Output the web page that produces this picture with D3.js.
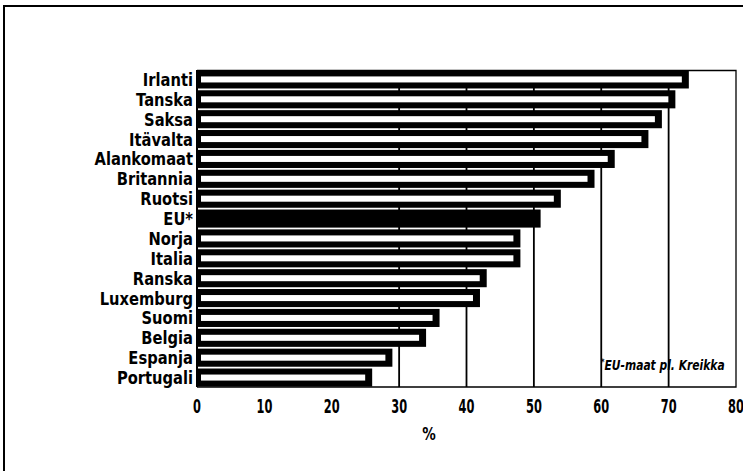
<!DOCTYPE html>
<html><head><meta charset="utf-8">
<script src="https://cdn.jsdelivr.net/npm/d3@7"></script>
<style>
html,body{margin:0;padding:0;background:#fff;}
svg{display:block;}
.lbl{font-family:"DejaVu Sans",sans-serif;font-weight:bold;fill:#000;}
</style></head><body>
<script>
const categories = ["Irlanti","Tanska","Saksa","Itävalta","Alankomaat","Britannia","Ruotsi","EU*","Norja","Italia","Ranska","Luxemburg","Suomi","Belgia","Espanja","Portugali"];
const values = [73,71,69,67,62,59,54,51,48,48,43,42,36,34,29,26];
const xTicks = [0,10,20,30,40,50,60,70,80];
const gridTicks = [30,40,50,60,70];
const highlighted = ["EU*"];
const axisTitle = "%";
const note = "EU-maat pl. Kreikka";

const W = 743, H = 471;
const svg = d3.select("body").append("svg").attr("width", W).attr("height", H);

// outer frame
svg.append("path").attr("d", `M4,${H} L4,6 L${W},6`).attr("fill","none").attr("stroke","#000").attr("stroke-width",2);

const x = d3.scaleLinear().domain([0,80]).range([197,736]);
const y = d3.scaleBand().domain(categories).range([70,387]).paddingInner(0.09).paddingOuter(0.02);

// plot frame (top, right, bottom)
svg.append("path").attr("d", `M${x(0)},70.5 L${x(80)},70.5 L${x(80)},387 L${x(0)},387`)
  .attr("fill","none").attr("stroke","#000").attr("stroke-width",1.3);

// gridlines
svg.append("g").selectAll("line").data(gridTicks).join("line")
  .attr("x1", d=>x(d)).attr("x2", d=>x(d)).attr("y1",70).attr("y2",387)
  .attr("stroke","#000").attr("stroke-width",1.8);

// bars
const bars = svg.append("g").selectAll("g").data(categories).join("g");
bars.append("rect")
  .attr("x", x(0)).attr("y", d=>y(d))
  .attr("width", (d,i)=>x(values[i])-x(0)).attr("height", y.bandwidth())
  .attr("fill","#000");
bars.filter(d=>!highlighted.includes(d)).append("rect")
  .attr("x", x(0)+4).attr("y", d=>y(d)+y.bandwidth()/3)
  .attr("width", d=>x(values[categories.indexOf(d)])-x(0)-11).attr("height", y.bandwidth()/3)
  .attr("fill","#fff");

// y axis line
svg.append("line").attr("x1",x(0)).attr("x2",x(0)).attr("y1",70).attr("y2",387).attr("stroke","#000").attr("stroke-width",2);

// condensed text helper
function ctext(g, px, py, sx, size) {
  return g.append("text").attr("class","lbl")
    .attr("transform", `translate(${px},${py}) scale(${sx},1)`)
    .attr("font-size", size);
}

// category labels
const lg = svg.append("g");
categories.forEach(c => {
  ctext(lg, 193, y(c)+y.bandwidth()/2+6.5, 0.84, 17.5).attr("text-anchor","end").text(c);
});

// x tick labels
const tg = svg.append("g");
xTicks.forEach(t => {
  ctext(tg, x(t), 412.5, 0.6, 19).attr("text-anchor","middle").text(t);
});

ctext(svg, 429, 440, 0.75, 18).attr("text-anchor","middle").text(axisTitle);

// note
const nt = ctext(svg, 601, 370, 0.74, 14.5).attr("font-style","italic").attr("font-weight","normal");
nt.append("tspan").attr("font-size",9).attr("dy",-5).text("*");
nt.append("tspan").attr("dy",5).text(note);
</script>
</body></html>
